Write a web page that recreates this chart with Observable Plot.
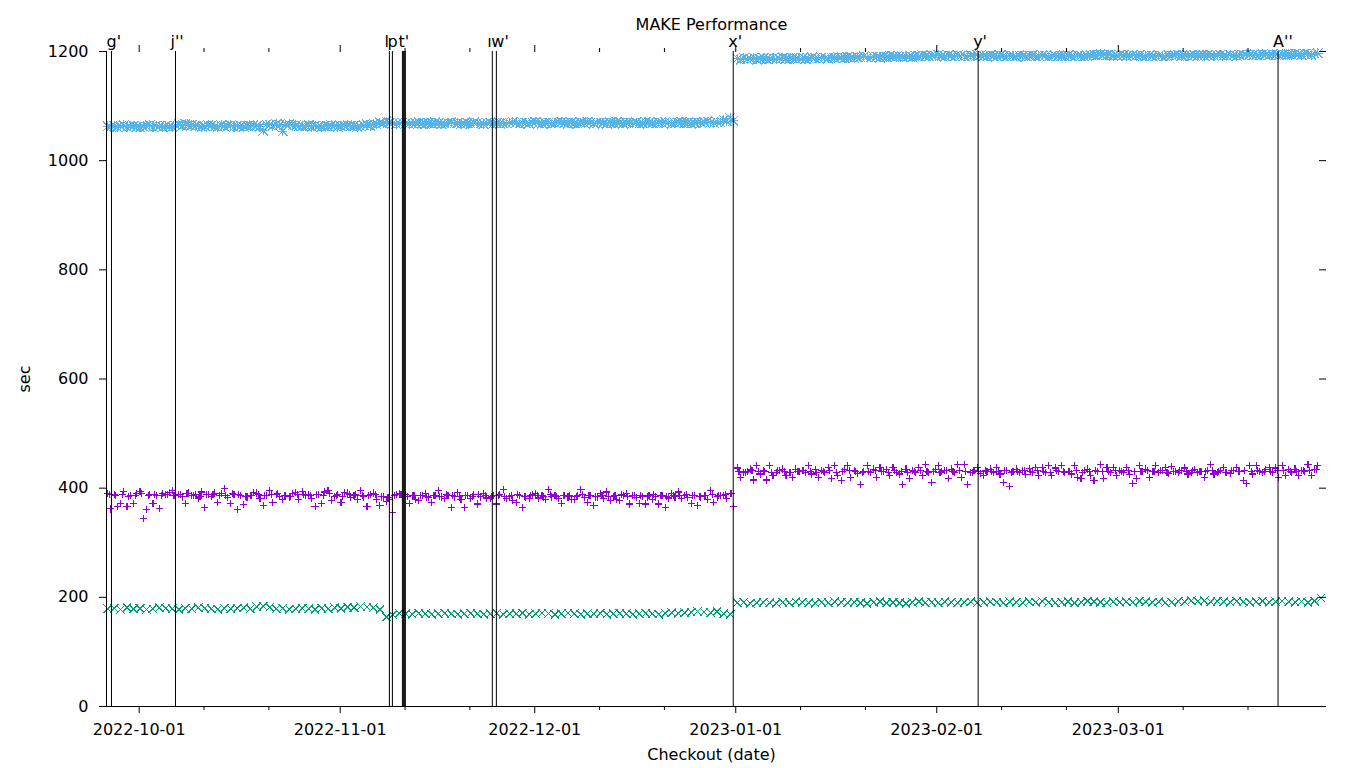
<!DOCTYPE html>
<html><head><meta charset="utf-8">
<script src="https://cdn.jsdelivr.net/npm/d3@7"></script>
<script src="https://cdn.jsdelivr.net/npm/@observablehq/plot@0.6"></script>
<style>html,body{margin:0;padding:0;background:#fff;}</style>
</head><body><div id="chart"></div><script>
const title = "MAKE Performance";
const xLabel = "Checkout (date)";
const yLabel = "sec";
const yTicks = [0, 200, 400, 600, 800, 1000, 1200];
const majorTicks = ["2022-10-01","2022-11-01","2022-12-01","2023-01-01","2023-02-01","2023-03-01"];
const minorTicks = ["2022-10-11","2022-10-21","2022-11-11","2022-11-21","2022-12-11","2022-12-21","2023-01-11","2023-01-21","2023-02-11","2023-02-21","2023-03-11","2023-03-21"];
const xDomain = ["2022-09-25T23:00Z", "2023-04-02T02:30Z"];

// vertical marker lines (commit tags)
const markerDates = ["2022-09-26T17:30Z","2022-10-06T14:20Z","2022-11-08T14:00Z","2022-11-09T01:10Z","2022-11-10T14:10Z","2022-11-10T17:50Z","2022-11-10T21:30Z","2022-11-11T01:10Z","2022-11-24T11:00Z","2022-11-25T02:00Z","2022-12-31T14:40Z","2023-02-07T09:10Z","2023-03-25T15:10Z"];
const markerLabels = ["g'","j''","l","p","","t'","","","ı","w'","x'","y'","A''"];

const seg1Start = "2022-09-26T03:00Z";
const seg2Start = "2023-01-01T06:00Z";
const seg1StartB = "2022-09-26T09:00Z";
const seg2StartB = "2023-01-01T12:00Z";

// series 1 (purple, +): runs twice a day ...
const purple1 = [
390,362,388,366,372,394,366,387,372,390,
394,344,361,388,372,386,363,390,388,392,
396,386,389,384,372,391,386,389,382,393,
365,388,385,391,374,390,399,383,372,388,
361,386,370,384,387,392,391,381,368,386,
396,374,389,385,380,387,384,390,392,380,
394,386,389,381,366,388,372,393,395,377,
385,389,374,392,391,383,386,380,395,384,
367,388,391,380,368,384,375,380,356,388,
390,383,388,372,387,380,377,386,390,383,
374,386,395,384,381,387,365,384,392,380,
365,386,381,388,371,384,390,382,381,386,
371,388,397,381,384,378,374,386,365,384,
381,388,390,382,387,379,397,384,387,381,
372,386,384,380,379,387,397,383,374,386,
368,384,390,381,393,377,384,379,377,386,
390,371,387,383,372,385,371,387,379,384,
371,386,365,382,390,384,393,381,387,383,
372,386,368,384,387,380,396,374,384,386,
387,381,390,366];
const purple2 = [
437,420,429,431,435,415,441,426,432,415,
441,423,429,433,435,423,429,420,435,430,
432,428,441,426,434,420,432,429,438,417,
441,423,414,435,441,420,432,427,407,431,
441,429,435,420,438,430,434,423,438,428,
426,407,435,417,432,428,438,423,444,429,
411,435,441,430,432,417,435,428,444,420,
444,407,428,432,438,427,423,431,435,428,
438,426,411,432,403,430,435,428,432,425,
436,429,438,424,438,429,441,423,437,430,
441,429,431,426,441,420,417,432,435,423,
414,430,444,417,438,429,438,423,432,428,
438,425,408,417,441,430,435,420,431,441,
429,433,438,427,439,430,428,433,437,426,
429,434,428,431,420,433,444,426,429,432,
438,429,427,433,438,430,414,408,441,426,
441,430,429,434,438,428,437,420,441,423,
434,429,435,423,432,430,444,423,435,441];
// ... plus one more daily run near the band centre
const purple1b = [
388,386,389,385,387,390,386,388,387,389,
386,388,390,387,385,389,388,386,387,390,
388,385,387,389,386,388,390,387,385,388,
389,386,388,387,390,386,385,388,389,387,
386,389,384,383,386,388,385,387,386,384,
387,385,388,386,384,387,385,388,386,385,
387,384,386,388,385,387,386,384,388,385,
386,387,385,388,386,384,387,385,386,388,
385,387,386,384,388,386,385,387,386,388,
387,385,386,388,387,389,390];
const purple2b = [
430,429,432,430,431,428,433,430,429,431,
432,430,428,431,433,429,430,432,431,429,
430,433,431,429,432,430,428,431,433,430,
431,429,432,430,433,431,429,430,432,431,
430,432,429,431,433,430,432,431,429,432,
430,431,433,429,430,432,431,430,433,431,
432,430,431,433,430,432,429,431,433,430,
432,431,430,433,431,429,432,430,433,431,
432,430,431,433,432,430,431,433,432,434];

// series 2 (green, x): one run per day
const green1 = [
179,180,178,181,179,180,178,179,181,180,
179,178,180,179,181,180,179,178,180,179,
180,181,179,183,184,182,179,180,178,179,
180,179,178,180,179,181,180,182,181,183,
182,181,178,164,168,171,170,169,171,170,
169,170,171,170,169,170,171,170,169,170,
171,169,170,170,171,169,170,171,170,169,
170,171,170,169,170,170,171,169,170,171,
170,169,170,171,170,169,171,172,171,172,
173,174,173,172,174,170,169];
const green2 = [
190,191,189,190,191,190,189,191,190,192,
191,190,189,191,190,192,191,190,191,190,
189,191,192,190,191,190,189,191,192,190,
191,190,192,191,190,191,192,190,191,192,
191,190,192,191,190,192,191,193,191,190,
191,192,190,191,193,192,191,190,192,191,
192,191,193,192,191,192,190,191,193,192,
194,193,194,192,193,192,191,193,192,191,
192,193,191,192,193,192,191,192,191,193,
199];

// series 3 (light blue, *): two runs per day
const blue1 = [
1063,1062,1064,1061,1063,1065,1062,1063,1064,1062,
1061,1063,1063,1065,1062,1064,1063,1061,1064,1063,
1062,1064,1066,1064,1067,1065,1066,1063,1064,1062,
1063,1065,1064,1063,1062,1065,1063,1064,1065,1062,
1064,1063,1062,1064,1063,1065,1064,1062,1055,1066,
1066,1064,1067,1065,1054,1066,1067,1064,1065,1063,
1064,1063,1065,1062,1064,1063,1062,1064,1063,1065,
1064,1062,1063,1064,1065,1063,1064,1062,1063,1065,
1066,1064,1068,1066,1070,1068,1072,1069,1069,1067,
1068,1070,1069,1067,1068,1069,1070,1068,1067,1069,
1068,1070,1069,1067,1068,1069,1070,1068,1069,1067,
1068,1069,1068,1070,1069,1068,1067,1069,1070,1068,
1069,1068,1069,1068,1070,1071,1069,1068,1070,1069,
1068,1070,1071,1069,1068,1069,1070,1068,1069,1070,
1071,1069,1068,1070,1069,1068,1070,1069,1071,1070,
1068,1069,1070,1069,1068,1070,1069,1071,1070,1068,
1069,1070,1069,1070,1068,1069,1071,1070,1069,1068,
1070,1069,1071,1070,1068,1069,1070,1071,1069,1070,
1068,1069,1070,1069,1071,1072,1070,1069,1071,1070,
1075,1072,1078,1073];
const blue2 = [
1187,1185,1188,1186,1187,1189,1185,1187,1188,1186,
1187,1188,1186,1187,1189,1187,1186,1188,1187,1188,
1188,1186,1187,1189,1188,1187,1189,1188,1187,1189,
1188,1190,1189,1188,1190,1189,1188,1190,1189,1191,
1190,1189,1191,1190,1189,1191,1190,1192,1191,1190,
1191,1190,1192,1191,1190,1192,1191,1193,1192,1191,
1193,1192,1194,1192,1191,1193,1192,1191,1193,1192,
1192,1191,1193,1192,1194,1193,1192,1191,1193,1192,
1191,1193,1192,1191,1193,1192,1191,1193,1192,1191,
1192,1193,1191,1192,1193,1192,1191,1192,1193,1191,
1192,1191,1193,1192,1191,1193,1192,1191,1192,1193,
1194,1193,1195,1194,1193,1194,1192,1193,1194,1193,
1192,1193,1194,1192,1193,1191,1192,1193,1192,1191,
1193,1192,1191,1193,1192,1193,1194,1192,1193,1192,
1193,1194,1192,1193,1192,1194,1193,1192,1193,1194,
1193,1192,1194,1193,1192,1194,1193,1195,1194,1193,
1194,1193,1195,1194,1193,1195,1194,1193,1195,1194,
1195,1194,1196,1195,1194,1196,1195,1194,1196,1197];

function series(values, startISO, stepHours) {
  const t0 = Date.parse(startISO);
  return values.map((v, i) => ({t: new Date(t0 + i * stepHours * 3600e3), v}));
}
const purple = [...series(purple1, seg1Start, 12), ...series(purple1b, seg1StartB, 24),
                ...series(purple2, seg2Start, 12), ...series(purple2b, seg2StartB, 24)];
const green = [...series(green1, seg1Start, 24), ...series(green2, seg2Start, 24)];
const blue = [...series(blue1, seg1Start, 12), ...series(blue2, seg2Start, 12)];
const markers = markerDates.map((d, i) => ({date: new Date(d), label: markerLabels[i]}));

const half = size => Math.sqrt(size / Math.PI);
const plusSym = {draw(c, s) { const r = half(s); c.moveTo(-r, 0); c.lineTo(r, 0); c.moveTo(0, -r); c.lineTo(0, r); }};
const timesSym = {draw(c, s) { const r = half(s); c.moveTo(-r, -r); c.lineTo(r, r); c.moveTo(-r, r); c.lineTo(r, -r); }};
const starSym = {draw(c, s) { const r = half(s); c.moveTo(-r, 0); c.lineTo(r, 0); c.moveTo(0, -r); c.lineTo(0, r); c.moveTo(-r, -r); c.lineTo(r, r); c.moveTo(-r, r); c.lineTo(r, -r); }};

const utc = s => new Date(s + "T00:00Z");
const fmt = d3.utcFormat("%Y-%m-%d");
const none = () => "";

const chart = Plot.plot({
  width: 1360, height: 768,
  marginLeft: 106, marginRight: 34, marginTop: 51, marginBottom: 62,
  style: {fontFamily: "DejaVu Sans", fontSize: "16px", background: "white", color: "black"},
  x: {type: "utc", domain: xDomain.map(d => new Date(d))},
  y: {domain: [0, 1200]},
  marks: [
    Plot.dot(purple, {x: "t", y: "v", symbol: plusSym, r: 3.6, stroke: "#9400d3", fill: "none", strokeWidth: 1.1, shapeRendering: "crispEdges"}),
    Plot.dot(green, {x: "t", y: "v", symbol: timesSym, r: 4.2, stroke: "#009e73", fill: "none", strokeWidth: 1.1, shapeRendering: "crispEdges"}),
    Plot.dot(blue, {x: "t", y: "v", symbol: starSym, r: 4.8, stroke: "#56b4e9", fill: "none", strokeWidth: 1.1, shapeRendering: "crispEdges"}),
    Plot.ruleX(markers, {x: "date", stroke: "black", strokeWidth: 1}),
    Plot.text(markers.filter(d => d.label), {x: "date", text: "label", frameAnchor: "top", textAnchor: "start", lineAnchor: "bottom", dx: -5, dy: -5, fill: "black"}),
    Plot.ruleY([0], {stroke: "black"}),
    Plot.ruleX([new Date(xDomain[0])], {stroke: "black"}),
    Plot.axisY({ticks: yTicks, tickSize: 7, tickPadding: 11, label: null, tickFormat: d => String(d)}),
    Plot.tickY(yTicks, {y: d => d, insetLeft: 1213, stroke: "black"}),
    Plot.axisX({ticks: majorTicks.map(utc), tickFormat: fmt, tickSize: 7, tickPadding: 10, label: null}),
    Plot.axisX({ticks: minorTicks.map(utc), tickFormat: none, tickSize: 4, label: null}),
    Plot.axisX({anchor: "top", ticks: majorTicks.map(utc), tickFormat: none, tickSize: 7, label: null}),
    Plot.axisX({anchor: "top", ticks: minorTicks.map(utc), tickFormat: none, tickSize: 4, label: null}),
    Plot.text([title], {text: d => d, frameAnchor: "top", textAnchor: "middle", dx: -5, dy: -22, lineAnchor: "bottom", fill: "black"}),
    Plot.text([xLabel], {text: d => d, frameAnchor: "bottom", textAnchor: "middle", dx: -5, dy: 53, lineAnchor: "bottom", fill: "black"}),
    Plot.text([yLabel], {text: d => d, frameAnchor: "left", textAnchor: "middle", dx: -82, rotate: -90, lineAnchor: "middle", fill: "black"})
  ]
});
document.getElementById("chart").appendChild(chart);
</script></body></html>
